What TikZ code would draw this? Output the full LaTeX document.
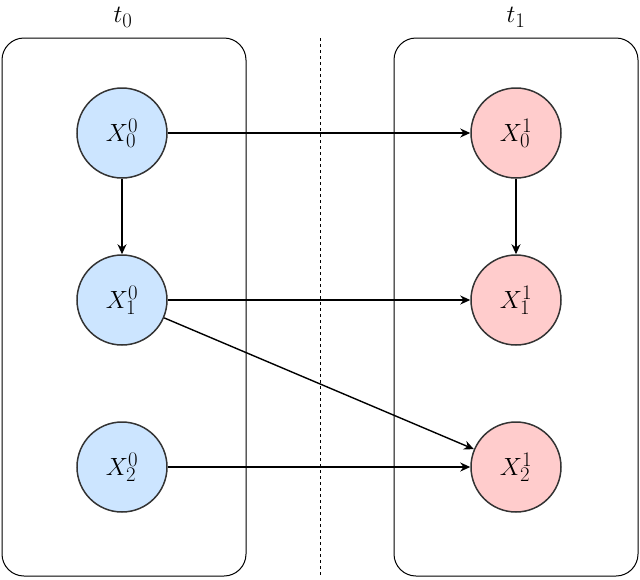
\documentclass[tikz,border=0pt]{standalone}
\usetikzlibrary{arrows.meta}
\begin{document}
\begin{tikzpicture}[x=1pt,y=-1pt,
  box/.style={draw=black,line width=1pt,rounded corners=22pt},
  var/.style={circle,draw=black!80,line width=1.5pt,minimum size=90pt,inner sep=0pt,font=\Huge},
  arr/.style={-{Stealth[length=10pt,width=9pt]},line width=1.4pt}]
\useasboundingbox (0,0) rectangle (640,579);
\definecolor{bfill}{HTML}{CCE5FF}
\definecolor{rfill}{HTML}{FFCCCC}
\draw[box] (2,38) rectangle (246,576);
\draw[box] (394,38) rectangle (638,576);
\draw[dashed,line width=0.7pt] (320,38) -- (320,576);
\node[font=\Huge] (t0) at (123,17) {$t_0$};
\node[font=\Huge] (t1) at (516,17) {$t_1$};
\node[var,fill=bfill] (a0) at (122,133) {$X_0^0$};
\node[var,fill=bfill] (a1) at (122,300) {$X_1^0$};
\node[var,fill=bfill] (a2) at (122,467) {$X_2^0$};
\node[var,fill=rfill] (b0) at (516,133) {$X_0^1$};
\node[var,fill=rfill] (b1) at (516,300) {$X_1^1$};
\node[var,fill=rfill] (b2) at (516,467) {$X_2^1$};
\draw[arr] (a0) -- (b0);
\draw[arr] (a0) -- (a1);
\draw[arr] (b0) -- (b1);
\draw[arr] (a1) -- (b1);
\draw[arr] (a1) -- (b2);
\draw[arr] (a2) -- (b2);
\end{tikzpicture}
\end{document}
